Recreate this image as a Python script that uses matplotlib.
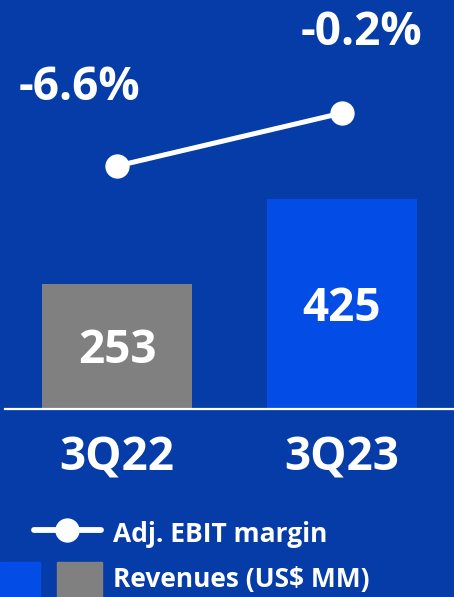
import matplotlib
matplotlib.use('Agg')
import matplotlib.pyplot as plt
from matplotlib.lines import Line2D
from matplotlib.patches import Rectangle

plt.rcParams['font.family'] = ['Open Sans', 'DejaVu Sans']
plt.rcParams['font.weight'] = 'bold'

# 数据
categories = ['3Q22', '3Q23']
revenues = [253, 425]
ebit_margin = [-6.6, -0.2]
margin_labels = ['-6.6%', '-0.2%']

bg = '#053ca8'
bar_colors = ['#808080', '#034ce6']

fig = plt.figure(figsize=(4.54, 5.97), dpi=100, facecolor=bg)
ax = fig.add_axes([0, 0, 1, 1])
ax.set_facecolor(bg)

x = [0, 1]
ax.bar(x, revenues, width=0.67, color=bar_colors, zorder=2)
ax.set_xlim(-0.52, 1.498)
ax.set_ylim(-380, 826)
ax.axhline(0, xmin=0.01, xmax=1, color='white', linewidth=1.6, zorder=3)

# 柱内数值
for xi, v in zip(x, revenues):
    ax.annotate(str(v), (xi, v / 2), xytext=(0, -17), textcoords='offset pixels',
                ha='center', va='baseline', color='white',
                fontsize=33, fontweight='bold', zorder=4)

# 类别标签
for xi, c in zip(x, categories):
    ax.annotate(c, (xi, 0), xytext=(0, -62), textcoords='offset pixels',
                ha='center', va='baseline', color='white',
                fontsize=33, fontweight='bold')
ax.axis('off')

# 折线（副轴）
ax2 = ax.twinx()
ax2.set_ylim(-58.65, 13.45)
ax2.plot(x, ebit_margin, color='white', linewidth=3.6, marker='o',
         markersize=16.5, zorder=5)
offsets = [(-38, 66), (19, 68)]
for xi, m, lab, off in zip(x, ebit_margin, margin_labels, offsets):
    ax2.annotate(lab, (xi, m), xytext=off, textcoords='offset pixels',
                 ha='center', va='baseline', color='white',
                 fontsize=33, fontweight='bold')
ax2.axis('off')

# 图例（手动）
W, H = 454, 597
def fx(p):
    return p / W
def fy(p):
    return 1 - p / H

fig.add_artist(Line2D([fx(34), fx(101)], [fy(530), fy(530)], color='white',
                      linewidth=4.2, solid_capstyle='round',
                      transform=fig.transFigure))
fig.add_artist(Line2D([fx(67)], [fy(530)], marker='o', markersize=16.5,
                      color='white', transform=fig.transFigure))
fig.text(fx(113), fy(542), 'Adj. EBIT margin', color='white', fontsize=19,
         fontweight='bold', va='baseline', ha='left')
fig.add_artist(Rectangle((fx(0), fy(597)), fx(40), fy(562) - fy(597),
                         color=bar_colors[1], transform=fig.transFigure))
fig.add_artist(Rectangle((fx(57), fy(597)), fx(45), fy(562) - fy(597),
                         color=bar_colors[0], transform=fig.transFigure))
fig.text(fx(113), fy(587), 'Revenues (US$ MM)', color='white', fontsize=19,
         fontweight='bold', va='baseline', ha='left')

plt.savefig('out.png', dpi=100, facecolor=bg)
